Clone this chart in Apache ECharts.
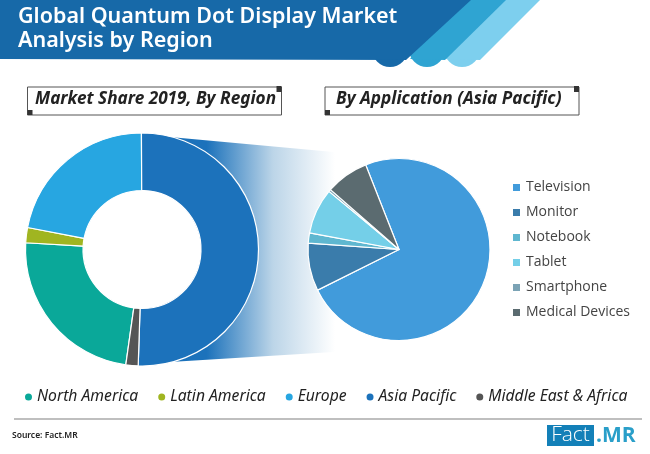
<!DOCTYPE html>
<html>
<head>
<meta charset="utf-8">
<style>
html, body { margin: 0; padding: 0; background: #ffffff; }
#main { width: 650px; height: 454px; }
</style>
<script src="https://cdn.jsdelivr.net/npm/echarts@6/dist/echarts.min.js"></script>
</head>
<body>
<div id="main"></div>
<script>
var regions = ['North America', 'Latin America', 'Europe', 'Asia Pacific', 'Middle East & Africa'];
var regionShare = [23.7, 2.1, 21.9, 50.6, 1.7];
var regionColors = ['#0aa899', '#a0b521', '#27a6e1', '#1c72bb', '#555555'];

var applications = ['Television', 'Monitor', 'Notebook', 'Tablet', 'Smartphone', 'Medical Devices'];
var applicationShare = [73.6, 8.5, 1.8, 8.1, 0.4, 7.6];
var applicationColors = ['#419bdb', '#3a7cab', '#5fb7d0', '#74cfe8', '#7ba3b5', '#5b6b70'];

function toPieData(names, values, colors) {
    return names.map(function (name, i) {
        return { name: name, value: values[i], itemStyle: { color: colors[i] } };
    });
}

// one slanted header band with its round lobe at the bottom
function headerBand(points, lobeX, color) {
    return [
        { type: 'circle', z: 0, shape: { cx: lobeX, cy: 49, r: 18 }, style: { fill: color } },
        { type: 'polygon', z: 0, shape: { points: points }, style: { fill: color } }
    ];
}

// caption box with the two little corner squares
function captionBox(x, text, textX) {
    return [
        { type: 'rect', z: 1, shape: { x: x, y: 87, width: 254, height: 28 }, style: { fill: '#fff', stroke: '#555', lineWidth: 1 } },
        { type: 'rect', z: 1, shape: { x: x + 249, y: 86, width: 5, height: 6 }, style: { fill: '#333' } },
        { type: 'rect', z: 1, shape: { x: x, y: 110, width: 5, height: 5 }, style: { fill: '#333' } },
        { type: 'text', z: 2, x: textX, y: 99, style: { text: text, fill: '#222', font: 'italic bold 17.2px "Noto Sans"', textVerticalAlign: 'middle' } }
    ];
}

var myChart = echarts.init(document.getElementById('main'));

myChart.setOption({
    backgroundColor: '#ffffff',
    animation: false,
    title: {
        text: 'Global Quantum Dot Display Market\nAnalysis by Region',
        left: 13,
        top: 0,
        textStyle: { color: '#ffffff', fontFamily: 'Noto Sans', fontWeight: 600, fontSize: 21.5, lineHeight: 24 }
    },
    legend: [{
        data: regions,
        left: 18,
        top: 384,
        icon: 'circle',
        itemWidth: 9,
        itemHeight: 9,
        itemGap: 18,
        selectedMode: false,
        textStyle: { fontFamily: 'Noto Sans', fontStyle: 'italic', fontSize: 15.7, color: '#222', padding: [0, 0, 0, -1] }
    }, {
        data: applications,
        orient: 'vertical',
        left: 506,
        top: 175.5,
        icon: 'rect',
        itemWidth: 9,
        itemHeight: 9,
        itemGap: 11,
        selectedMode: false,
        textStyle: { fontFamily: 'Open Sans', fontSize: 14, color: '#444' }
    }],
    graphic: [].concat(
        headerBand([[490, 0], [540, 0], [480, 60], [445, 59]], 462, '#7dcfee'),
        headerBand([[460, 0], [506, 0], [445, 60], [410, 59]], 427, '#2fa4d2'),
        headerBand([[0, 0], [471, 0], [406, 60], [0, 59]], 390, '#1769a8'),
        [{
            // zoom wedge between the two pies
            type: 'polygon', z: 0,
            shape: { points: [[170, 137], [399, 158], [399, 348], [170, 362]] },
            style: {
                fill: new echarts.graphic.LinearGradient(0, 0, 1, 0, [
                    { offset: 0, color: '#1c72bb' },
                    { offset: 0.16, color: '#1c72bb' },
                    { offset: 0.45, color: '#bcd5e8' },
                    { offset: 0.72, color: '#ffffff' },
                    { offset: 1, color: '#ffffff' }
                ])
            }
        }, {
            // keeps the wedge out of the donut hole
            type: 'circle', z: 1, shape: { cx: 142, cy: 249.5, r: 60 }, style: { fill: '#ffffff' }
        }],
        captionBox(27.5, 'Market Share 2019, By Region', 35),
        captionBox(325, 'By Application (Asia Pacific)', 336),
        [
            { type: 'line', z: 1, shape: { x1: 14, y1: 419, x2: 642, y2: 419 }, style: { stroke: '#aaaaaa', lineWidth: 1.5 } },
            { type: 'text', z: 1, x: 12, y: 436, style: { text: 'Source: Fact.MR', fill: '#222', font: '600 8.5px "Noto Sans"', textVerticalAlign: 'middle' } },
            { type: 'rect', z: 1, shape: { x: 547, y: 425, width: 47, height: 21 }, style: { fill: '#1380b8' } },
            { type: 'text', z: 2, x: 570.5, y: 435.5, style: { text: 'Fact', fill: '#ffffff', font: '300 21px "Open Sans"', textAlign: 'center', textVerticalAlign: 'middle' } },
            { type: 'text', z: 2, x: 596, y: 436, style: { text: '.MR', fill: '#2a9fc9', font: 'bold 21px "Open Sans"', textVerticalAlign: 'middle' } }
        ]
    ),
    series: [{
        type: 'pie',
        z: 2,
        center: [142, 249.5],
        radius: [59, 116.5],
        startAngle: -98,
        label: { show: false },
        labelLine: { show: false },
        silent: true,
        itemStyle: { borderColor: '#ffffff', borderWidth: 1.2 },
        data: toPieData(regions, regionShare, regionColors)
    }, {
        type: 'pie',
        z: 2,
        center: [399, 249.5],
        radius: [0, 91],
        startAngle: 111.5,
        label: { show: false },
        labelLine: { show: false },
        silent: true,
        itemStyle: { borderColor: '#ffffff', borderWidth: 1.2 },
        data: toPieData(applications, applicationShare, applicationColors)
    }]
});
</script>
</body>
</html>
